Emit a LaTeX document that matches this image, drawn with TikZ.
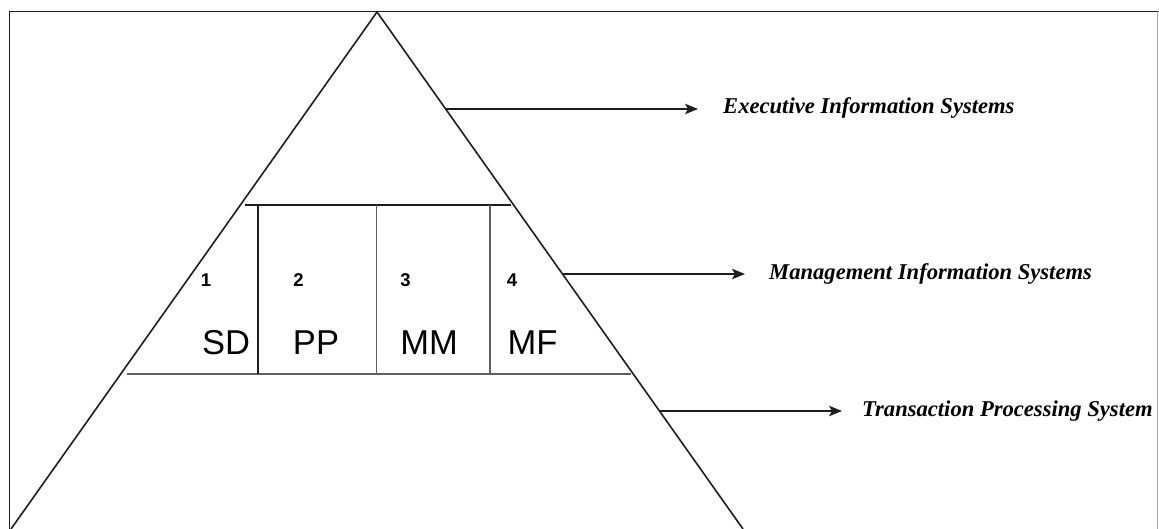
\documentclass[tikz,border=0pt]{standalone}
\usepackage{fontspec}
\setmainfont{Liberation Serif}
\newfontfamily\arialf{Liberation Sans}
\usetikzlibrary{arrows.meta}
\definecolor{ink}{HTML}{1E1E1E}
\definecolor{midgray}{HTML}{5E5E5E}
\definecolor{framegray}{HTML}{A8A8A8}
\tikzset{
  edge/.style={draw=ink, line width=1.6pt},
  divider/.style={draw=midgray, line width=1.7pt},
  pointer/.style={draw=ink, line width=1.6pt, -{Stealth[length=13pt,width=10.5pt,inset=3pt]}},
  tier/.style={anchor=base west, inner sep=0pt, font=\fontsize{22.6}{26}\selectfont\bfseries\itshape, text=black},
  cellnum/.style={inner sep=0pt, font=\arialf\fontsize{18.5}{21}\selectfont\bfseries, text=black},
  cellname/.style={inner sep=0pt, font=\arialf\fontsize{34.5}{40}\selectfont, text=black}
}
\begin{document}
\begin{tikzpicture}[x=1pt,y=-1pt]
\useasboundingbox (0,0) rectangle (1159,529);
% frame
\draw[draw=ink, line width=1.6pt] (9.5,529) -- (9.5,11.5) -- (1159,11.5);
\draw[draw=framegray, line width=1.8pt] (1157.5,11.5) -- (1157.5,529);
% pyramid
\coordinate (apex) at (377,12);
\coordinate (bl) at (11,529);
\coordinate (br) at (743,529);
\draw[edge] (bl) -- (apex) -- (br);
% middle band
\coordinate (t1) at (245,205);
\coordinate (t2) at (511,205);
\coordinate (b1) at (127,374);
\coordinate (b2) at (631,374);
\draw[edge] (t1) -- (t2);
\draw[divider] (b1) -- (b2);
\coordinate (v1t) at (258,205); \coordinate (v1b) at (258,374);
\coordinate (v2t) at (376.5,205); \coordinate (v2b) at (376.5,374);
\coordinate (v3t) at (490,205); \coordinate (v3b) at (490,374);
\draw[edge] (v1t) -- (v1b);
\draw[divider] (v2t) -- (v2b);
\draw[divider] (v3t) -- (v3b);
% cell labels
\node[cellnum] (n1) at (206,280) {1};
\node[cellnum] (n2) at (298.5,280) {2};
\node[cellnum] (n3) at (405.5,280) {3};
\node[cellnum] (n4) at (512,280) {4};
\node[cellname] (sd) at (226,342.5) {SD};
\node[cellname] (pp) at (316,342.5) {PP};
\node[cellname] (mm) at (429,342.5) {MM};
\node[cellname] (mf) at (532.5,342.5) {MF};
% tier labels and pointers
\node[tier] (eis) at (723,114) {Executive Information Systems};
\node[tier] (mis) at (769,279.5) {Management Information Systems};
\node[tier] (tps) at (862,416) {Transaction Processing System};
\coordinate (e1) at (445,109);
\coordinate (e2) at (698,109);
\coordinate (m1) at (562,274);
\coordinate (m2) at (745,274);
\coordinate (p1) at (660,411);
\coordinate (p2) at (842,411);
\draw[pointer] (e1) -- (e2);
\draw[pointer] (m1) -- (m2);
\draw[pointer] (p1) -- (p2);
\end{tikzpicture}
\end{document}
